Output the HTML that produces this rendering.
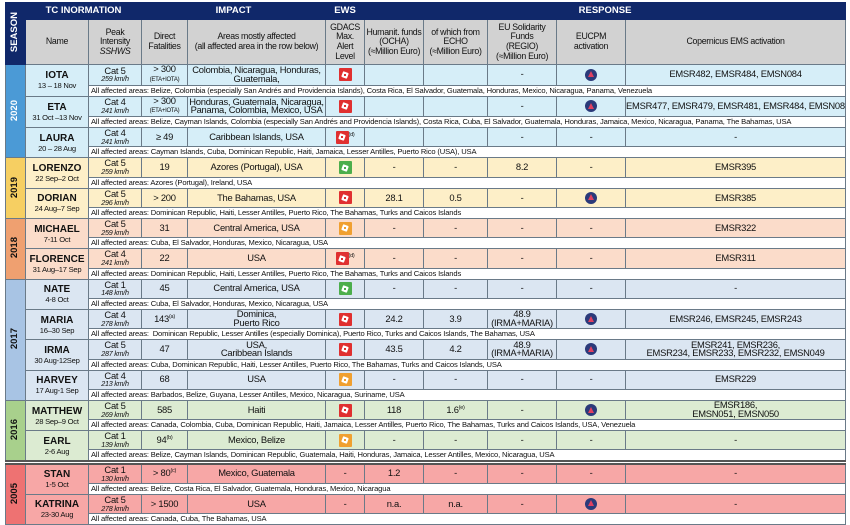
<!DOCTYPE html>
<html><head><meta charset="utf-8"><style>
*{margin:0;padding:0;box-sizing:border-box}
body{width:850px;height:525px;background:#fff;font-family:"Liberation Sans",Arial,sans-serif;overflow:hidden;position:relative}
table{position:absolute;left:5px;top:2px;width:840px;border-collapse:collapse;table-layout:fixed}
td{border:1px solid #6a7a88;text-align:center;vertical-align:middle;font-size:9.4px;line-height:8.8px;color:#111;overflow:hidden;white-space:nowrap;padding:0;letter-spacing:-0.25px}
.h1 td{background:#10286a;color:#fff;font-weight:bold;font-size:9.5px;height:17px;border-color:#10286a;letter-spacing:0}
.h2 td{background:#d2d2d2;height:45px;font-size:8.8px;line-height:9.6px;white-space:normal;padding:0;letter-spacing:-0.3px}
.season{background:#10286a!important;color:#fff!important;font-weight:bold}
.vt{writing-mode:vertical-rl;transform:rotate(180deg);font-weight:bold;font-size:9.5px;display:inline-block;letter-spacing:0}
.m td{height:19.3px}
.a td{height:11px;background:#fff;text-align:left;font-size:7.6px;line-height:8px;padding-left:2px;letter-spacing:-0.15px}
.nm b{font-size:10px;display:block;line-height:11px;letter-spacing:0}
.nm span{font-size:7.6px;display:block;line-height:9px}
.pk i{font-size:7.2px;display:block;line-height:7.5px}
.sm{font-size:6px}
sup{font-size:5.5px;line-height:0}
.g{display:inline-block;width:13px;height:13px;border-radius:1px;position:relative;vertical-align:middle}
.g:after{content:"";position:absolute;left:3.5px;top:3.5px;width:6px;height:6px;background:#fff;border-radius:1px;transform:rotate(20deg)}
.g:before{content:"";position:absolute;left:5.5px;top:5.5px;width:2px;height:2px;background:inherit;z-index:1}
.r{background:#e03030}.o{background:#f0a030}.gr{background:#4cae4c}
.e{display:inline-block;width:12px;height:12px;border-radius:50%;background:#2b3a7a;position:relative;vertical-align:middle}
.e:after{content:"";position:absolute;left:2.5px;top:2.5px;border-left:3.5px solid transparent;border-right:3.5px solid transparent;border-bottom:6px solid #e04060}
.y20 td{background:#d6eef8}.s20{background:#4b9ad6!important}
.y19 td{background:#fdefc8}.s19{background:#f6cf62!important}
.y18 td{background:#fbdcca}.s18{background:#efa070!important}
.y17 td{background:#dbe6f2}.s17{background:#a8c4e4!important}
.y16 td{background:#dcebd2}.s16{background:#a8d08c!important}
.y05 td{background:#f7a7a6}.s05{background:#ee7272!important}
.gap td{height:3px;background:#fff;border-left:none;border-right:none;border-top:2px solid #555;border-bottom:2px solid #555}
</style></head><body>
<table>
<colgroup><col style="width:20px"><col style="width:63px"><col style="width:53px"><col style="width:46px"><col style="width:138px"><col style="width:39px"><col style="width:59px"><col style="width:64px"><col style="width:69px"><col style="width:69px"><col style="width:220px"></colgroup>
<tr class="h1"><td rowspan="2" class="season"><span class="vt">SEASON</span></td><td colspan="2">TC INORMATION</td><td colspan="2">IMPACT</td><td>EWS</td><td colspan="5">RESPONSE</td></tr>
<tr class="h2"><td>Name</td><td>Peak<br>Intensity<br><i>SSHWS</i></td><td>Direct<br>Fatalities</td><td>Areas mostly affected<br>(all affected area in the row below)</td><td>GDACS<br>Max.<br>Alert<br>Level</td><td>Humanit. funds<br>(OCHA)<br>(≈Million Euro)</td><td>of which from<br>ECHO<br>(≈Million Euro)</td><td>EU Solidarity<br>Funds<br>(REGIO)<br>(≈Million Euro)</td><td>EUCPM<br>activation</td><td>Copernicus EMS activation</td></tr>

<tr class="m y20"><td rowspan="6" class="season s20"><span class="vt">2020</span></td><td rowspan="2" class="nm"><b>IOTA</b><span>13 – 18 Nov</span></td><td class="pk">Cat 5<i>259 km/h</i></td><td>&gt; 300<br><span class="sm">(ETA+IOTA)</span></td><td>Colombia, Nicaragua, Honduras,<br>Guatemala,</td><td><span class="g r"></span></td><td></td><td></td><td>-</td><td><span class="e"></span></td><td>EMSR482, EMSR484, EMSN084</td></tr>
<tr class="a"><td colspan="9">All affected areas: Belize, Colombia (especially San Andrés and Providencia Islands), Costa Rica, El Salvador, Guatemala, Honduras, Mexico, Nicaragua, Panama, Venezuela</td></tr>
<tr class="m y20"><td rowspan="2" class="nm"><b>ETA</b><span>31 Oct –13 Nov</span></td><td class="pk">Cat 4<i>241 km/h</i></td><td>&gt; 300<br><span class="sm">(ETA+IOTA)</span></td><td>Honduras, Guatemala, Nicaragua,<br>Panama, Colombia, Mexico, USA</td><td><span class="g r"></span></td><td></td><td></td><td>-</td><td><span class="e"></span></td><td>EMSR477, EMSR479, EMSR481, EMSR484, EMSN084</td></tr>
<tr class="a"><td colspan="9">All affected areas: Belize, Cayman Islands, Colombia (especially San Andrés and Providencia Islands), Costa Rica, Cuba, El Salvador, Guatemala, Honduras, Jamaica, Mexico, Nicaragua, Panama, The Bahamas, USA</td></tr>
<tr class="m y20"><td rowspan="2" class="nm"><b>LAURA</b><span>20 – 28 Aug</span></td><td class="pk">Cat 4<i>241 km/h</i></td><td>≥ 49</td><td>Caribbean Islands, USA</td><td><span class="g r"></span><sup>(d)</sup></td><td></td><td></td><td>-</td><td>-</td><td>-</td></tr>
<tr class="a"><td colspan="9">All affected areas: Cayman Islands, Cuba, Dominican Republic, Haiti, Jamaica, Lesser Antilles, Puerto Rico (USA), USA</td></tr>

<tr class="m y19"><td rowspan="4" class="season s19"><span class="vt" style="color:#111">2019</span></td><td rowspan="2" class="nm"><b>LORENZO</b><span>22 Sep–2 Oct</span></td><td class="pk">Cat 5<i>259 km/h</i></td><td>19</td><td>Azores (Portugal), USA</td><td><span class="g gr"></span></td><td>-</td><td>-</td><td>8.2</td><td>-</td><td>EMSR395</td></tr>
<tr class="a"><td colspan="9">All affected areas: Azores (Portugal), Ireland, USA</td></tr>
<tr class="m y19"><td rowspan="2" class="nm"><b>DORIAN</b><span>24 Aug–7 Sep</span></td><td class="pk">Cat 5<i>296 km/h</i></td><td>&gt; 200</td><td>The Bahamas, USA</td><td><span class="g r"></span></td><td>28.1</td><td>0.5</td><td>-</td><td><span class="e"></span></td><td>EMSR385</td></tr>
<tr class="a"><td colspan="9">All affected areas: Dominican Republic, Haiti, Lesser Antilles, Puerto Rico, The Bahamas, Turks and Caicos Islands</td></tr>

<tr class="m y18"><td rowspan="4" class="season s18"><span class="vt" style="color:#111">2018</span></td><td rowspan="2" class="nm"><b>MICHAEL</b><span>7-11 Oct</span></td><td class="pk">Cat 5<i>259 km/h</i></td><td>31</td><td>Central America, USA</td><td><span class="g o"></span></td><td>-</td><td>-</td><td>-</td><td>-</td><td>EMSR322</td></tr>
<tr class="a"><td colspan="9">All affected areas: Cuba, El Salvador, Honduras, Mexico, Nicaragua, USA</td></tr>
<tr class="m y18"><td rowspan="2" class="nm"><b>FLORENCE</b><span>31 Aug–17 Sep</span></td><td class="pk">Cat 4<i>241 km/h</i></td><td>22</td><td>USA</td><td><span class="g r"></span><sup>(d)</sup></td><td>-</td><td>-</td><td>-</td><td>-</td><td>EMSR311</td></tr>
<tr class="a"><td colspan="9">All affected areas: Dominican Republic, Haiti, Lesser Antilles, Puerto Rico, The Bahamas, Turks and Caicos Islands</td></tr>

<tr class="m y17"><td rowspan="8" class="season s17"><span class="vt" style="color:#111">2017</span></td><td rowspan="2" class="nm"><b>NATE</b><span>4-8 Oct</span></td><td class="pk">Cat 1<i>148 km/h</i></td><td>45</td><td>Central America, USA</td><td><span class="g gr"></span></td><td>-</td><td>-</td><td>-</td><td>-</td><td>-</td></tr>
<tr class="a"><td colspan="9">All affected areas: Cuba, El Salvador, Honduras, Mexico, Nicaragua, USA</td></tr>
<tr class="m y17"><td rowspan="2" class="nm"><b>MARIA</b><span>16–30 Sep</span></td><td class="pk">Cat 4<i>278 km/h</i></td><td>143<sup>(a)</sup></td><td>Dominica,<br>Puerto Rico</td><td><span class="g r"></span></td><td>24.2</td><td>3.9</td><td>48.9<br>(IRMA+MARIA)</td><td><span class="e"></span></td><td>EMSR246, EMSR245, EMSR243</td></tr>
<tr class="a"><td colspan="9">All affected areas:&nbsp; Dominican Republic, Lesser Antilles (especially Dominica), Puerto Rico, Turks and Caicos Islands, The Bahamas, USA</td></tr>
<tr class="m y17"><td rowspan="2" class="nm"><b>IRMA</b><span>30 Aug-12Sep</span></td><td class="pk">Cat 5<i>287 km/h</i></td><td>47</td><td>USA,<br>Caribbean Islands</td><td><span class="g r"></span></td><td>43.5</td><td>4.2</td><td>48.9<br>(IRMA+MARIA)</td><td><span class="e"></span></td><td>EMSR241, EMSR236,<br>EMSR234, EMSR233, EMSR232, EMSN049</td></tr>
<tr class="a"><td colspan="9">All affected areas: Cuba, Dominican Republic, Haiti, Lesser Antilles, Puerto Rico, The Bahamas, Turks and Caicos Islands, USA</td></tr>
<tr class="m y17"><td rowspan="2" class="nm"><b>HARVEY</b><span>17 Aug-1 Sep</span></td><td class="pk">Cat 4<i>213 km/h</i></td><td>68</td><td>USA</td><td><span class="g o"></span></td><td>-</td><td>-</td><td>-</td><td>-</td><td>EMSR229</td></tr>
<tr class="a"><td colspan="9">All affected areas: Barbados, Belize, Guyana, Lesser Antilles, Mexico, Nicaragua, Suriname, USA</td></tr>

<tr class="m y16"><td rowspan="4" class="season s16"><span class="vt" style="color:#111">2016</span></td><td rowspan="2" class="nm"><b>MATTHEW</b><span>28 Sep–9 Oct</span></td><td class="pk">Cat 5<i>269 km/h</i></td><td>585</td><td>Haiti</td><td><span class="g r"></span></td><td>118</td><td>1.6<sup>(e)</sup></td><td>-</td><td><span class="e"></span></td><td>EMSR186,<br>EMSN051, EMSN050</td></tr>
<tr class="a"><td colspan="9">All affected areas: Canada, Colombia, Cuba, Dominican Republic, Haiti, Jamaica, Lesser Antilles, Puerto Rico, The Bahamas, Turks and Caicos Islands, USA, Venezuela</td></tr>
<tr class="m y16"><td rowspan="2" class="nm"><b>EARL</b><span>2-6 Aug</span></td><td class="pk">Cat 1<i>139 km/h</i></td><td>94<sup>(b)</sup></td><td>Mexico, Belize</td><td><span class="g o"></span></td><td>-</td><td>-</td><td>-</td><td>-</td><td>-</td></tr>
<tr class="a"><td colspan="9">All affected areas: Belize, Cayman Islands, Dominican Republic, Guatemala, Haiti, Honduras, Jamaica, Lesser Antilles, Mexico, Nicaragua, USA</td></tr>

<tr class="gap"><td colspan="11"></td></tr>

<tr class="m y05"><td rowspan="4" class="season s05"><span class="vt" style="color:#111">2005</span></td><td rowspan="2" class="nm"><b>STAN</b><span>1-5 Oct</span></td><td class="pk">Cat 1<i>130 km/h</i></td><td>&gt; 80<sup>(c)</sup></td><td>Mexico, Guatemala</td><td>-</td><td>1.2</td><td>-</td><td>-</td><td>-</td><td>-</td></tr>
<tr class="a"><td colspan="9">All affected areas: Belize, Costa Rica, El Salvador, Guatemala, Honduras, Mexico, Nicaragua</td></tr>
<tr class="m y05"><td rowspan="2" class="nm"><b>KATRINA</b><span>23-30 Aug</span></td><td class="pk">Cat 5<i>278 km/h</i></td><td>&gt; 1500</td><td>USA</td><td>-</td><td>n.a.</td><td>n.a.</td><td>-</td><td><span class="e"></span></td><td>-</td></tr>
<tr class="a"><td colspan="9">All affected areas: Canada, Cuba, The Bahamas, USA</td></tr>
</table>
</body></html>
